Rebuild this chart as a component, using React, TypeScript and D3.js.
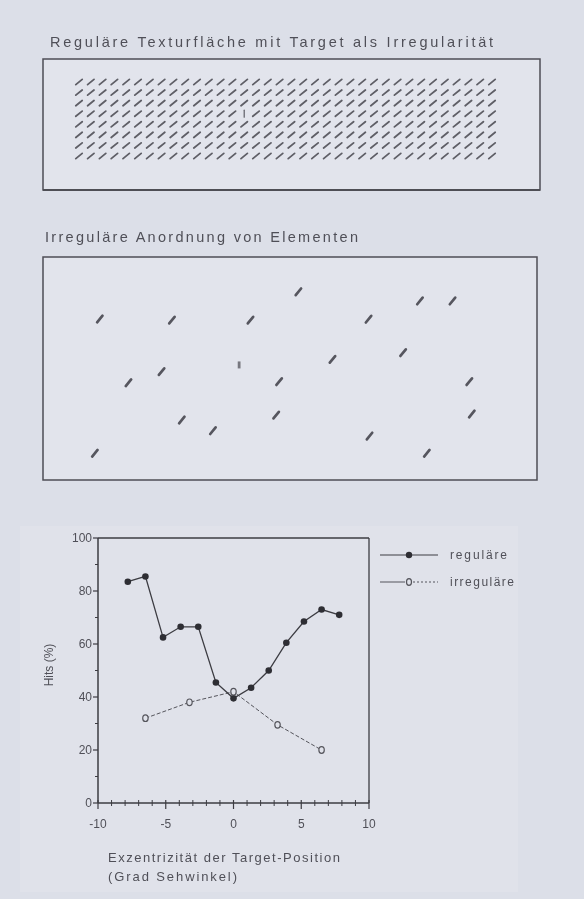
import React from "react";
import * as d3 from "d3";

// ---------- Data ----------
const TITLE_TOP = "Reguläre Texturfläche mit Target als Irregularität";
const TITLE_MID = "Irreguläre Anordnung von Elementen";

// Regular texture grid
const TEX_COLS = 36;
const TEX_ROWS = 8;
const TEX_TARGET = { col: 14, row: 3 };

// Irregular arrangement (percent of panel width / height)
const IRR_EL_X = [11.5, 26.1, 42.0, 51.7, 65.9, 76.3, 82.9, 17.3, 24.0, 47.8, 58.6, 72.9, 86.3, 28.1, 34.4, 47.2, 66.1, 86.8, 10.5, 77.7];
const IRR_EL_Y = [27.8, 28.3, 28.3, 15.6, 27.9, 19.7, 19.7, 56.4, 51.4, 55.9, 45.9, 42.9, 55.9, 73.1, 77.9, 70.9, 80.3, 70.4, 88.0, 88.0];
const IRR_TARGET = { x: 39.7, y: 48.4 };

// Chart series
const REG_X = [-7.8, -6.5, -5.2, -3.9, -2.6, -1.3, 0, 1.3, 2.6, 3.9, 5.2, 6.5, 7.8];
const REG_Y = [83.5, 85.5, 62.5, 66.5, 66.5, 45.5, 39.5, 43.5, 50, 60.5, 68.5, 73, 71];
const IRR_X = [-6.5, -3.25, 0, 3.25, 6.5];
const IRR_Y = [32, 38, 42, 29.5, 20];

const X_TICKS = [-10, -5, 0, 5, 10];
const Y_TICKS = [0, 20, 40, 60, 80, 100];
const LEGEND = ["reguläre", "irreguläre"];
const X_LABEL_1 = "Exzentrizität der Target-Position";
const X_LABEL_2 = "(Grad Sehwinkel)";
const Y_LABEL = "Hits (%)";

// ---------- Styles ----------
const BG = "#dcdfe8";
const PANEL = "#e2e4ec";
const INK = "#3c3c42";
const TXT = "#505058";
const FONT = "Arial, 'Liberation Sans', Helvetica, sans-serif";

export default function App() {
  const W = 584, H = 899;

  // Top panel
  const b1 = { x0: 43, y0: 59, x1: 540, y1: 190 };
  const texX = d3.scaleLinear().domain([0, TEX_COLS - 1]).range([79, 492]);
  const texY = d3.scaleLinear().domain([0, TEX_ROWS - 1]).range([82, 156]);
  const texMarks: { c: number; r: number }[] = [];
  for (let r = 0; r < TEX_ROWS; r++)
    for (let c = 0; c < TEX_COLS; c++)
      if (!(c === TEX_TARGET.col && r === TEX_TARGET.row)) texMarks.push({ c, r });

  // Middle panel
  const b2 = { x0: 43, y0: 257, x1: 537, y1: 480 };
  const px = d3.scaleLinear().domain([0, 100]).range([b2.x0, b2.x1]);
  const py = d3.scaleLinear().domain([0, 100]).range([b2.y0, b2.y1]);

  // Chart
  const x = d3.scaleLinear().domain([-10, 10]).range([98, 369]);
  const y = d3.scaleLinear().domain([0, 100]).range([803, 538]);
  const regLine = d3.line<number>().x((d, i) => x(REG_X[i])).y((d) => y(d))(REG_Y) || "";
  const irrLine = d3.line<number>().x((d, i) => x(IRR_X[i])).y((d) => y(d))(IRR_Y) || "";

  const minorX = d3.range(-9, 10).filter((v) => v % 5 !== 0);
  const minorY = d3.range(10, 100, 20);

  return (
    <div style={{ position: "absolute", left: 0, top: 0 }}>
      <svg width={W} height={H} style={{ display: "block" }} fontFamily={FONT}>
        <defs>
          <filter id="soft" x="-30%" y="-30%" width="160%" height="160%">
            <feGaussianBlur stdDeviation="0.6" />
          </filter>
          <filter id="softText" x="-5%" y="-30%" width="110%" height="160%">
            <feGaussianBlur stdDeviation="0.35" />
          </filter>
        </defs>
        <rect width={W} height={H} fill={BG} />

        {/* ---------- Top panel ---------- */}
        <text x={50} y={47} fontSize={14.5} fill={TXT} textLength={443} lengthAdjust="spacing" filter="url(#softText)">
          {TITLE_TOP}
        </text>
        <rect x={b1.x0} y={b1.y0} width={b1.x1 - b1.x0} height={b1.y1 - b1.y0} fill={PANEL} stroke="#4e4e55" strokeWidth={1.5} />
        <line x1={b1.x0} x2={b1.x1} y1={b1.y1} y2={b1.y1} stroke="#4e4e55" strokeWidth={2} />
        <g filter="url(#soft)" stroke="#5e5e66" strokeWidth={1.8} strokeLinecap="round">
          {texMarks.map(({ c, r }) => (
            <line key={`t${c}-${r}`} x1={texX(c) - 3.2} y1={texY(r) + 2.6} x2={texX(c) + 3.2} y2={texY(r) - 2.6} />
          ))}
          <line x1={texX(TEX_TARGET.col)} x2={texX(TEX_TARGET.col)} y1={texY(TEX_TARGET.row) - 3.5} y2={texY(TEX_TARGET.row) + 3.5} strokeWidth={1.2} />
        </g>

        {/* ---------- Middle panel ---------- */}
        <text x={45} y={242} fontSize={14.5} fill={TXT} textLength={313} lengthAdjust="spacing" filter="url(#softText)">
          {TITLE_MID}
        </text>
        <rect x={b2.x0} y={b2.y0} width={b2.x1 - b2.x0} height={b2.y1 - b2.y0} fill={PANEL} stroke="#4e4e55" strokeWidth={1.5} />
        <g filter="url(#soft)" stroke="#56565e" strokeWidth={2.7} strokeLinecap="round">
          {IRR_EL_X.map((v, i) => (
            <line key={`e${i}`} x1={px(v) - 2.7} y1={py(IRR_EL_Y[i]) + 3.3} x2={px(v) + 2.7} y2={py(IRR_EL_Y[i]) - 3.3} />
          ))}
          <line x1={px(IRR_TARGET.x)} x2={px(IRR_TARGET.x)} y1={py(IRR_TARGET.y) - 3.5} y2={py(IRR_TARGET.y) + 3.5} stroke="#77777f" strokeWidth={2.8} strokeLinecap="butt" />
        </g>

        {/* ---------- Chart ---------- */}
        <rect x={20} y={526} width={498} height={366} fill="#e0e2ea" />
        <g stroke={INK} fill="none">
          <line x1={x(-10)} x2={x(10)} y1={y(100)} y2={y(100)} strokeWidth={1.3} />
          <line x1={x(10)} x2={x(10)} y1={y(100)} y2={y(0)} strokeWidth={1.3} />
          <line x1={x(-10)} x2={x(-10)} y1={y(100)} y2={y(0)} strokeWidth={1.5} />
          <line x1={x(-10)} x2={x(10)} y1={y(0)} y2={y(0)} strokeWidth={1.5} />
          {Y_TICKS.map((t) => (
            <line key={`yt${t}`} x1={x(-10) - 5} x2={x(-10)} y1={y(t)} y2={y(t)} strokeWidth={1.2} />
          ))}
          {minorY.map((t) => (
            <line key={`ym${t}`} x1={x(-10) - 3} x2={x(-10)} y1={y(t)} y2={y(t)} strokeWidth={1} />
          ))}
          {X_TICKS.map((t) => (
            <line key={`xt${t}`} x1={x(t)} x2={x(t)} y1={y(0) - 3} y2={y(0) + 6} strokeWidth={1.2} />
          ))}
          {minorX.map((t) => (
            <line key={`xm${t}`} x1={x(t)} x2={x(t)} y1={y(0) - 3} y2={y(0) + 3} strokeWidth={1} />
          ))}
        </g>
        <g fontSize={12} fill={TXT} filter="url(#softText)">
          {Y_TICKS.map((t) => (
            <text key={`yl${t}`} x={x(-10) - 6} y={y(t)} dy="0.35em" textAnchor="end">{t}</text>
          ))}
          {X_TICKS.map((t) => (
            <text key={`xl${t}`} x={x(t)} y={828} textAnchor="middle">{t}</text>
          ))}
          <text transform={`translate(53,665) rotate(-90)`} fontSize={12} textAnchor="middle">{Y_LABEL}</text>
          <text x={108} y={862} fontSize={13} textLength={232} lengthAdjust="spacing">{X_LABEL_1}</text>
          <text x={108} y={881} fontSize={13} textLength={129} lengthAdjust="spacing">{X_LABEL_2}</text>
        </g>

        {/* series */}
        <path d={irrLine} fill="none" stroke="#55555c" strokeWidth={1} strokeDasharray="4 2" />
        <path d={regLine} fill="none" stroke={INK} strokeWidth={1.3} />
        {REG_Y.map((v, i) => (
          <circle key={`rp${i}`} cx={x(REG_X[i])} cy={y(v)} r={3.3} fill="#2e2e34" />
        ))}
        {IRR_Y.map((v, i) => (
          <ellipse key={`ip${i}`} cx={x(IRR_X[i])} cy={y(v)} rx={2.7} ry={3.3} fill="#e0e2ea" stroke="#55555c" strokeWidth={1.2} />
        ))}

        {/* legend */}
        <g>
          <line x1={380} x2={438} y1={555} y2={555} stroke={INK} strokeWidth={1.2} />
          <circle cx={409} cy={555} r={3.2} fill="#2e2e34" />
          <text x={450} y={555} dy="0.35em" fontSize={12} fill={TXT} textLength={57} lengthAdjust="spacing" filter="url(#softText)">{LEGEND[0]}</text>
          <line x1={380} x2={405} y1={582} y2={582} stroke="#55555c" strokeWidth={1} />
          <line x1={413} x2={438} y1={582} y2={582} stroke="#55555c" strokeWidth={1} strokeDasharray="2 2" />
          <ellipse cx={409} cy={582} rx={2.5} ry={3.3} fill="#e0e2ea" stroke="#55555c" strokeWidth={1.2} />
          <text x={450} y={582} dy="0.35em" fontSize={12} fill={TXT} textLength={64} lengthAdjust="spacing" filter="url(#softText)">{LEGEND[1]}</text>
        </g>
      </svg>
    </div>
  );
}
